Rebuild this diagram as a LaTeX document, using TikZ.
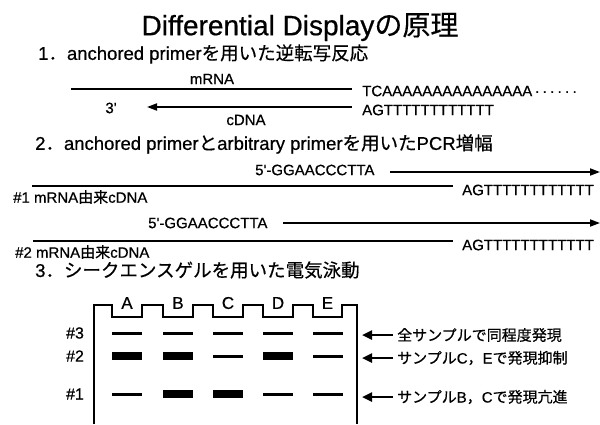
\documentclass[tikz,border=0pt]{standalone}
\usepackage{fontspec}
\setmainfont{Liberation Sans}[BoldFont={Liberation Sans}, BoldFeatures={FakeBold=0.6}]
\newfontfamily\jp{Noto Sans CJK JP}[BoldFont={Noto Sans CJK JP}, BoldFeatures={FakeBold=0.4}]
\usetikzlibrary{arrows.meta}
\begin{document}
\begin{tikzpicture}[x=1pt,y=-1pt,
  every node/.style={font=\bfseries},
  lbl/.style={inner sep=0pt, font=\fontsize{15}{17}\selectfont\bfseries},
  head/.style={inner sep=0pt, anchor=west, font=\fontsize{18.5}{20}\selectfont\bfseries},
  seq/.style={lbl, anchor=west},
  strand/.style={line width=1.8pt},
  fwd/.style={line width=1.8pt, -{Triangle[length=10pt,width=7pt]}},
  gelarrow/.style={line width=2.4pt, -{Triangle[length=10pt,width=9pt]}},
  gel/.style={line width=1.1pt},
  lane/.style={inner sep=0pt, font=\fontsize{17}{19}\selectfont\bfseries},
]
\useasboundingbox (0,0) rectangle (600,424);
\fill[white] (0,0) rectangle (600,424);

% title
\node[inner sep=0pt, font=\fontsize{28}{30}\selectfont\bfseries] (title) at (300,27) {Differential Display{\jp の原理}};

% section 1
\node[head] (h1) at (38,54) {1{\jp ．}anchored primer{\jp を用いた逆転写反応}};
\node[lbl] (mrna) at (212,79) {mRNA};
\node[seq] (tca) at (362,91) {TCAAAAAAAAAAAAAAA\,·\,·\,·\,·\,·\,·};
\node[seq] (agt1) at (362,110) {AGTTTTTTTTTTTT};
\coordinate (ms) at (71,89);
\coordinate (me) at (352,89);
\draw[strand] (ms) -- (me);
\coordinate (cs) at (352,107);
\coordinate (ce) at (147,107);
\draw[fwd] (cs) -- (ce);
\node[lbl] (p3) at (111,108) {3\textquotesingle};
\node[lbl] (cdna) at (246,120) {cDNA};

% section 2
\node[head] (h2) at (35,144) {2{\jp ．}anchored primer{\jp と}arbitrary primer{\jp を用いた}PCR{\jp 増幅}};
\node[seq] (pr1) at (255,170) {5\textquotesingle-GGAACCCTTA};
\coordinate (a1s) at (390,172);
\coordinate (a1e) at (600,172);
\draw[fwd] (a1s) -- (a1e);
\coordinate (l1s) at (32,186);
\coordinate (l1e) at (453,186);
\draw[strand] (l1s) -- (l1e);
\node[seq] (agt2) at (462,190) {AGTTTTTTTTTTTT};
\node[seq] (c1) at (13,197) {\#1 mRNA{\jp 由来}cDNA};

\node[seq] (pr2) at (148,223) {5\textquotesingle-GGAACCCTTA};
\coordinate (a2s) at (283,223);
\coordinate (a2e) at (600,223);
\draw[fwd] (a2s) -- (a2e);
\coordinate (l2s) at (33,241);
\coordinate (l2e) at (453,241);
\draw[strand] (l2s) -- (l2e);
\node[seq] (agt3) at (462,245) {AGTTTTTTTTTTTT};
\node[seq] (c2) at (15,252) {\#2 mRNA{\jp 由来}cDNA};

% section 3
\node[head] (h3) at (35,270) {3{\jp ．シークエンスゲルを用いた電気泳動}};

\draw[gel] (94,424) -- (94,305) -- (112,305) -- (112,317) -- (142,317) -- (142,305)
  -- (163,305) -- (163,317) -- (193,317) -- (193,305)
  -- (213,305) -- (213,317) -- (243,317) -- (243,305)
  -- (263,305) -- (263,317) -- (293,317) -- (293,305)
  -- (313,305) -- (313,317) -- (342,317) -- (342,305)
  -- (357,305) -- (357,424);

\foreach \l/\x in {A/127,B/178,C/228,D/278,E/327.5}
  \node[lane] (lane\l) at (\x,303) {\l};

% bands: row #3
\foreach \x/\w in {127/3,178/3,228/3,278/3,327.5/3}
  \fill (\x-15,333-\w/2) rectangle (\x+15,333+\w/2);
% row #2
\foreach \x/\w in {127/8,178/8,228/3,278/8,327.5/3}
  \fill (\x-15,356-\w/2) rectangle (\x+15,356+\w/2);
% row #1
\foreach \x/\w in {127/3,178/8,228/8,278/3,327.5/3}
  \fill (\x-15,394-\w/2) rectangle (\x+15,394+\w/2);

\node[lbl, font=\fontsize{16}{18}\selectfont\bfseries] (n3) at (75,333) {\#3};
\node[lbl, font=\fontsize{16}{18}\selectfont\bfseries] (n2) at (75,356) {\#2};
\node[lbl, font=\fontsize{16}{18}\selectfont\bfseries] (n1) at (75,394) {\#1};

\node[seq] (t3) at (397,335) {\jp 全サンプルで同程度発現};
\node[seq] (t2) at (397,358) {{\jp サンプル}C{\jp ，}E{\jp で発現抑制}};
\node[seq] (t1) at (397,397) {{\jp サンプル}B{\jp ，}C{\jp で発現亢進}};
\coordinate (r3) at (362,335);
\coordinate (r2) at (362,358);
\coordinate (r1) at (362,397);
\draw[gelarrow] ([xshift=-4pt]t3.west) -- (r3);
\draw[gelarrow] ([xshift=-4pt]t2.west) -- (r2);
\draw[gelarrow] ([xshift=-4pt]t1.west) -- (r1);
\end{tikzpicture}
\end{document}
